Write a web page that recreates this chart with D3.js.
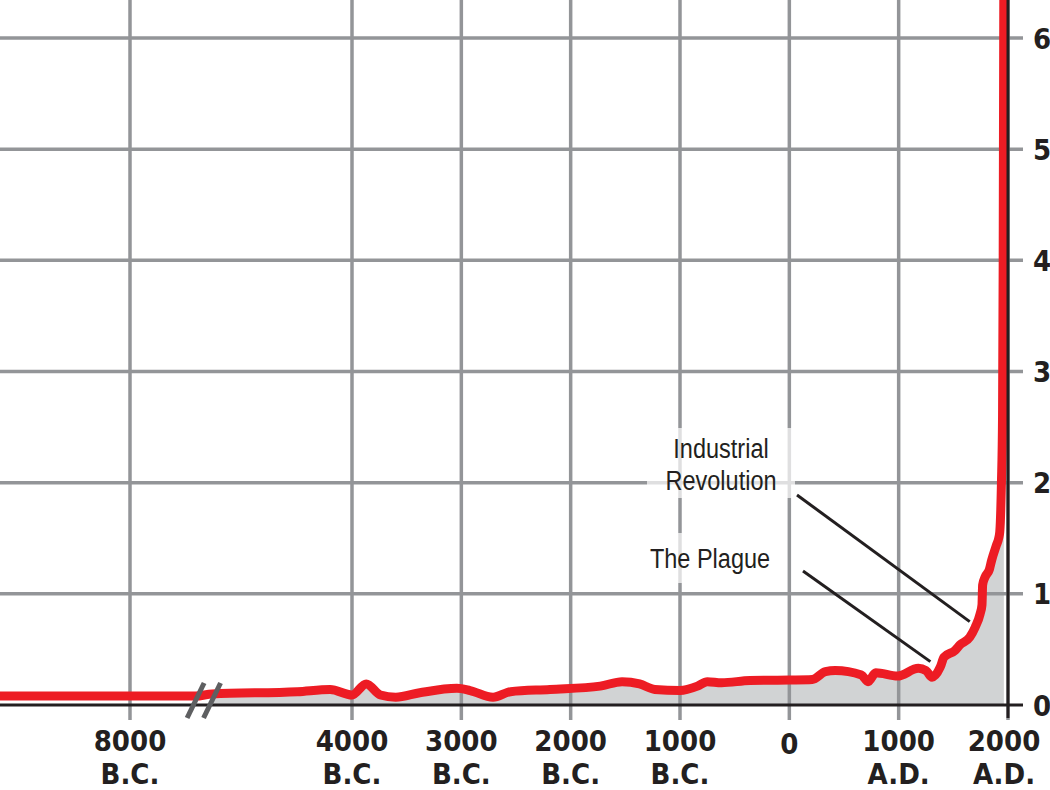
<!DOCTYPE html>
<html>
<head>
<meta charset="utf-8">
<script src="https://cdn.jsdelivr.net/npm/d3@7"></script>
<style>
  html, body { margin: 0; padding: 0; background: #fff; }
  svg { display: block; }
  .tick-label { font-family: "DejaVu Sans Condensed", "DejaVu Sans", sans-serif; font-stretch: condensed; font-weight: bold; font-size: 29px; fill: #231f20; }
  .note { font-family: "Liberation Sans", Arial, sans-serif; font-size: 28px; fill: #231f20; }
</style>
</head>
<body>
<svg id="chart" width="1050" height="790"></svg>
<script>
// ---- data (world population, billions) ----
const years = [-9200, -8000, -7400,
  -5280, -4500, -4200, -4000, -3870, -3740, -3600, -3380, -3040, -2920, -2710, -2550,
  -2190, -1730, -1530, -1370, -1230, -1000, -840, -750, -620, -360, 0, 210, 330, 420,
  660, 720, 790, 990, 1180, 1250, 1305, 1380, 1415, 1515, 1560, 1650, 1700, 1745, 1762,
  1768, 1790, 1830, 1850, 1895, 1915, 1925, 1940, 1950, 1956, 1962];
const population = [0.08, 0.08, 0.08,
  0.10, 0.12, 0.14, 0.09, 0.19, 0.09, 0.07, 0.11, 0.15, 0.13, 0.07, 0.12,
  0.14, 0.17, 0.21, 0.19, 0.14, 0.13, 0.17, 0.21, 0.20, 0.22, 0.225, 0.23, 0.30, 0.31,
  0.27, 0.21, 0.29, 0.26, 0.33, 0.31, 0.25, 0.34, 0.43, 0.49, 0.54, 0.61, 0.70, 0.82, 0.90,
  1.08, 1.15, 1.22, 1.30, 1.44, 1.50, 1.56, 2.0, 2.6, 4.0, 6.6];
const xTicks = [-8000, -4000, -3000, -2000, -1000, 0, 1000, 2000];
const xTickLabels = ["8000", "4000", "3000", "2000", "1000", "0", "1000", "2000"];
const xTickEras = ["B.C.", "B.C.", "B.C.", "B.C.", "B.C.", "", "A.D.", "A.D."];
const yTicks = [0, 1, 2, 3, 4, 5, 6];
const breakYears = [-7400, -5280];
const noteLabels = [["Industrial", "Revolution"], ["The Plague"]];
const noteTargets = [[1650, 0.75], [1290, 0.39]];

// ---- layout ----
const W = 1050, H = 790;
const plotRight = 1008, zeroY = 705, sixY = 38;
const pxPerYear = (plotRight - 352) / 6000;
const x0 = 130 - (-8000 - (-9200)) * pxPerYear;
const x = d3.scaleLinear()
  .domain([-9200, breakYears[0], breakYears[1], 2000])
  .range([x0, 130 + (breakYears[0] + 8000) * pxPerYear,
          plotRight - (2000 - breakYears[1]) * pxPerYear, plotRight]);
const y = d3.scaleLinear().domain([0, 6]).range([zeroY, sixY]);

const svg = d3.select("#chart");
const data = years.map((yr, i) => ({ yr, v: population[i] }));
const postBreak = data.filter(d => d.yr >= breakYears[1]);

const gridColor = "#939598";
const red = "#ed1c24";
const ink = "#231f20";

const defs = svg.append("defs");
defs.append("clipPath").attr("id", "clip")
  .append("rect").attr("x", 0).attr("y", 0).attr("width", W).attr("height", zeroY + 20);

// area fill
svg.append("path")
  .datum(postBreak)
  .attr("clip-path", "url(#clip)")
  .attr("fill", "#d1d3d4")
  .attr("d", d3.area().x(d => x(d.yr)).y0(y(0)).y1(d => y(d.v)).curve(d3.curveMonotoneX));

// gridlines
svg.append("g").selectAll("line.v").data(xTicks).join("line")
  .attr("x1", d => x(d)).attr("x2", d => x(d))
  .attr("y1", 0).attr("y2", zeroY + 15)
  .attr("stroke", gridColor).attr("stroke-width", 3.5);
svg.append("g").selectAll("line.h").data(yTicks.filter(d => d > 0)).join("line")
  .attr("x1", 0).attr("x2", plotRight + 15)
  .attr("y1", d => y(d)).attr("y2", d => y(d))
  .attr("stroke", gridColor).attr("stroke-width", 3.5);

// halo boxes behind annotations
const halos = [[647, 428, 148, 70], [645, 533, 132, 50]];
svg.append("g").selectAll("rect").data(halos).join("rect")
  .attr("x", d => d[0]).attr("y", d => d[1]).attr("width", d => d[2]).attr("height", d => d[3])
  .attr("fill", "#fff").attr("opacity", 0.7);

// annotation text (condensed by horizontal scaling)
const notePos = [[721, 458], [710, 568]];
const noteLineStart = [[797, 495], [803, 571]];
noteLabels.forEach((lines, i) => {
  const g = svg.append("g").attr("transform", `translate(${notePos[i][0]},${notePos[i][1]}) scale(0.84,1)`);
  lines.forEach((s, j) => g.append("text").attr("class", "note").attr("text-anchor", "middle")
    .attr("x", 0).attr("y", j * 32).text(s));
  svg.append("line")
    .attr("x1", noteLineStart[i][0]).attr("y1", noteLineStart[i][1])
    .attr("x2", x(noteTargets[i][0])).attr("y2", y(noteTargets[i][1]))
    .attr("stroke", ink).attr("stroke-width", 3);
});

// axes
svg.append("line").attr("x1", 0).attr("x2", plotRight + 15)
  .attr("y1", y(0)).attr("y2", y(0)).attr("stroke", ink).attr("stroke-width", 3);

// red population line
svg.append("path")
  .datum(data)
  .attr("clip-path", "url(#clip)")
  .attr("fill", "none")
  .attr("stroke", red).attr("stroke-width", 9)
  .attr("stroke-linejoin", "round")
  .attr("d", d3.line().x(d => x(d.yr)).y(d => y(d.v)).curve(d3.curveMonotoneX));

svg.append("line").attr("x1", plotRight).attr("x2", plotRight)
  .attr("y1", 0).attr("y2", zeroY + 13).attr("stroke", ink).attr("stroke-width", 3);

// axis break slashes
svg.append("g").selectAll("line").data(breakYears).join("line")
  .attr("x1", d => x(d) - 8.5).attr("y1", zeroY + 13)
  .attr("x2", d => x(d) + 8.5).attr("y2", zeroY - 22)
  .attr("stroke", "#5e5f61").attr("stroke-width", 5);

// x tick labels
const xl = svg.append("g");
xTicks.forEach((t, i) => {
  const cx = x(t) - (i === xTicks.length - 1 ? 4 : 0);
  xl.append("text").attr("class", "tick-label").attr("text-anchor", "middle")
    .attr("x", cx).attr("y", t === 0 ? 754 : 751).text(xTickLabels[i]);
  if (xTickEras[i]) xl.append("text").attr("class", "tick-label").attr("text-anchor", "middle")
    .attr("x", cx).attr("y", 784).text(xTickEras[i]);
});

// y tick labels
svg.append("g").selectAll("text").data(yTicks).join("text")
  .attr("class", "tick-label")
  .attr("x", plotRight + 25).attr("y", d => y(d) + 10.5)
  .text(d => d);
</script>
</body>
</html>
